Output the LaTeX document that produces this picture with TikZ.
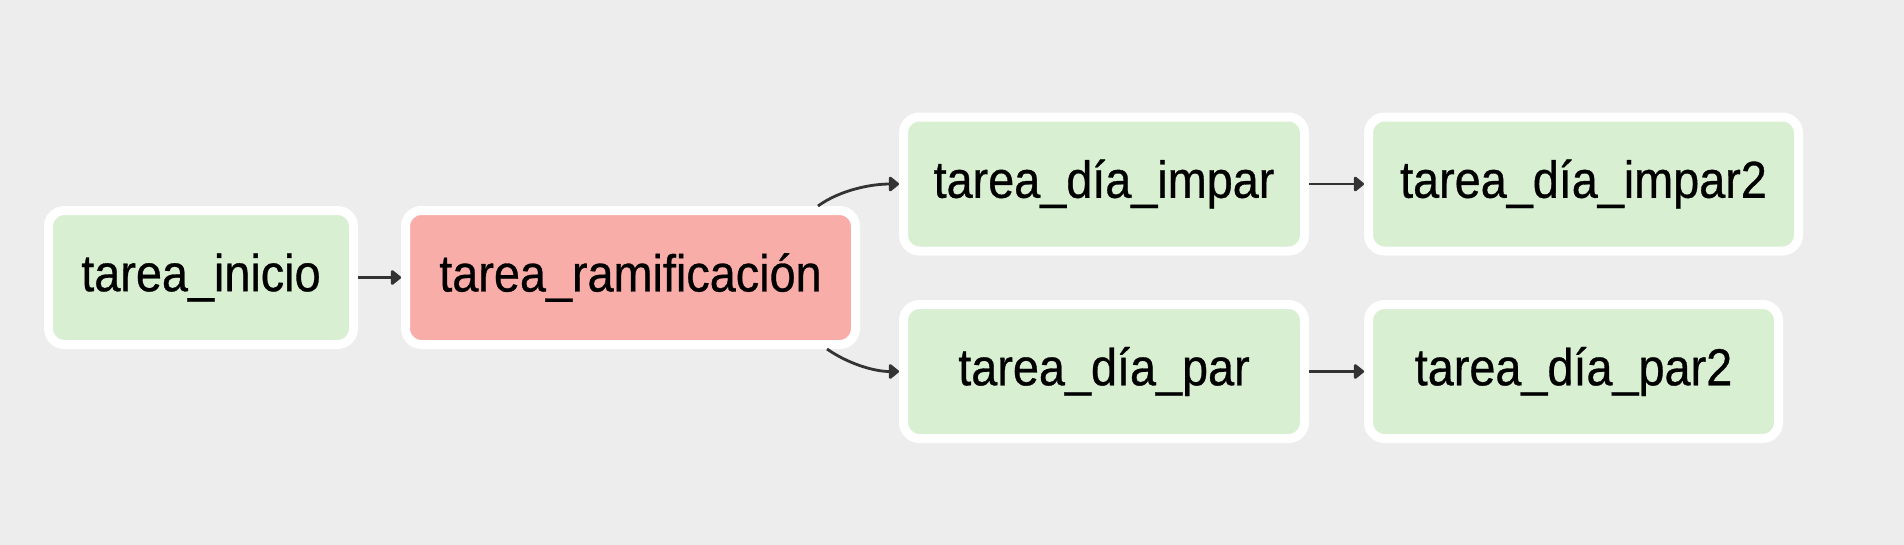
\documentclass[tikz,border=0pt]{standalone}
\usepackage{fontspec}
\setmainfont{Liberation Sans}[FakeStretch=0.9, FakeBold=0.6]
\usetikzlibrary{arrows.meta}
\definecolor{bg}{HTML}{EDEDED}
\definecolor{taskgreen}{HTML}{D8EFD2}
\definecolor{taskred}{HTML}{F9ADA8}
\definecolor{edgecol}{HTML}{333333}
\tikzset{
  task/.style={rectangle, rounded corners=16pt, draw=white, line width=9pt,
    fill=taskgreen, inner sep=0pt, minimum height=134pt,
    font=\fontsize{52}{62}\selectfont, text=black},
  branchtask/.style={task, fill=taskred},
  edge/.style={draw=edgecol, line width=2.8pt,
    -{Triangle[length=11pt,width=17pt,round]}}
}
\begin{document}
\begin{tikzpicture}[x=1pt,y=-1pt]
\useasboundingbox (0,0) rectangle (1904,544);
\fill[bg] (-10,-10) rectangle (1914,554);
\node[task, minimum width=305pt] (inicio) at (201,277.5) {tarea\_inicio};
\node[branchtask, minimum width=450pt] (ramif) at (630.5,277.5) {tarea\_ramificación};
\node[task, minimum width=401pt] (impar) at (1104,184) {tarea\_día\_impar};
\node[task, minimum width=430pt] (impar2) at (1583.5,184) {tarea\_día\_impar2};
\node[task, minimum width=401pt] (par) at (1104,371.5) {tarea\_día\_par};
\node[task, minimum width=410pt] (par2) at (1573.5,371.5) {tarea\_día\_par2};
\draw[edge] (inicio.east) -- (ramif.west);
\draw[edge] ([xshift=-42pt]ramif.north east) .. controls +(22,-16) and +(-28,0) .. (impar.west);
\draw[edge] ([xshift=-33pt]ramif.south east) .. controls +(20,14) and +(-26,0) .. (par.west);
\draw[edge] (impar.east) -- (impar2.west);
\draw[edge] (par.east) -- (par2.west);
\end{tikzpicture}
\end{document}
